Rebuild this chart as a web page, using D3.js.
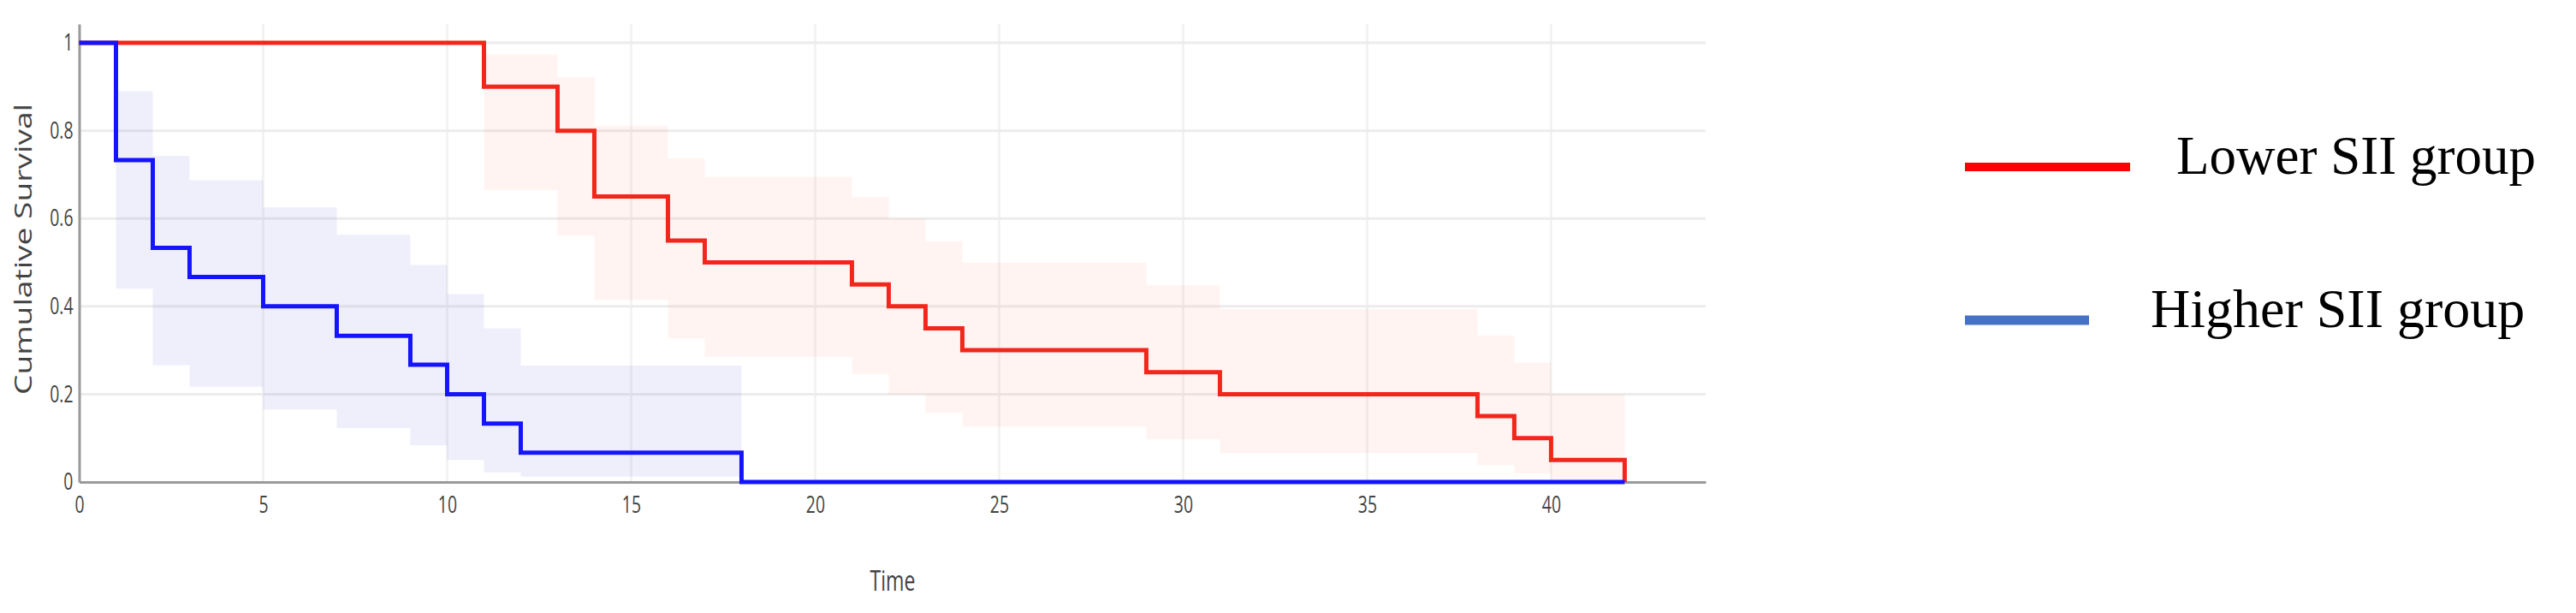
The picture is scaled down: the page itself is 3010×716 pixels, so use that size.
<!DOCTYPE html>
<html>
<head>
<meta charset="utf-8">
<script src="https://cdn.jsdelivr.net/npm/d3@7"></script>
<style>
  html, body { margin: 0; padding: 0; background: #ffffff; }
  svg { display: block; }
</style>
</head>
<body>
<svg id="chart" width="3010" height="716"></svg>
<script>
// ---------------- data ----------------
const seriesNames = ["Lower SII group", "Higher SII group"];

// Lower SII group (Kaplan-Meier steps)
const lowerTimes = [0, 11, 13, 14, 16, 17, 21, 22, 23, 24, 29, 31, 38, 39, 40, 42];
const lowerSurv  = [1, 0.9, 0.8, 0.65, 0.55, 0.5, 0.45, 0.4, 0.35, 0.3, 0.25, 0.2, 0.15, 0.1, 0.05, 0];
// Lower SII group confidence band
const lowerBandTimes = [11, 13, 14, 16, 17, 21, 22, 23, 24, 29, 31, 38, 39, 40, 42];
const lowerBandLow   = [0.665, 0.561, 0.415, 0.327, 0.285, 0.246, 0.2, 0.158, 0.126, 0.097, 0.066, 0.038, 0.019, 0.005, 0.005];
const lowerBandHigh  = [0.974, 0.922, 0.811, 0.737, 0.695, 0.649, 0.6, 0.548, 0.5, 0.448, 0.394, 0.334, 0.272, 0.2, 0.2];

// Higher SII group (Kaplan-Meier steps)
const higherTimes = [0, 1, 2, 3, 5, 7, 9, 10, 11, 12, 18, 42];
const higherSurv  = [1, 0.733, 0.533, 0.467, 0.4, 0.333, 0.267, 0.2, 0.133, 0.067, 0, 0];
// Higher SII group confidence band
const higherBandTimes = [1, 2, 3, 5, 7, 9, 10, 11, 12, 18];
const higherBandLow   = [0.44, 0.266, 0.217, 0.165, 0.123, 0.084, 0.05, 0.022, 0.012, 0.012];
const higherBandHigh  = [0.89, 0.743, 0.687, 0.626, 0.563, 0.494, 0.428, 0.35, 0.265, 0.265];

// axes
const xTickValues = [0, 5, 10, 15, 20, 25, 30, 35, 40];
const xTickLabels = ["0", "5", "10", "15", "20", "25", "30", "35", "40"];
const yTickValues = [0, 0.2, 0.4, 0.6, 0.8, 1];
const yTickLabels = ["0", "0.2", "0.4", "0.6", "0.8", "1"];
const xDomain = [0, 44.2];
const yDomain = [0, 1.043];
const xTitle = "Time";
const yTitle = "Cumulative Survival";

// ---------------- layout ----------------
const plot = { left: 92.5, right: 1993, top: 28, bottom: 563 };
const colors = {
  lowerLine: "#f3261b", higherLine: "#1414ff",
  lowerBand: "rgba(255,60,40,0.06)", higherBand: "rgba(40,40,220,0.075)",
  legendLower: "#ff0000", legendHigher: "#4472c4",
  grid: "#ececec", gridV: "#f1f1f1", axis: "#9a9a9a", text: "#444"
};

const svg = d3.select("#chart");
const x = d3.scaleLinear().domain(xDomain).range([plot.left, plot.right]);
const y = d3.scaleLinear().domain(yDomain).range([plot.bottom, plot.top]);

function compress(sel, factor) {
  sel.each(function () {
    const l = this.getComputedTextLength();
    this.setAttribute("textLength", l * factor);
    this.setAttribute("lengthAdjust", "spacingAndGlyphs");
  });
}

// gridlines
svg.append("g").selectAll("line.v").data(xTickValues.filter(d => d > 0)).join("line")
  .attr("x1", d => x(d)).attr("x2", d => x(d))
  .attr("y1", plot.top).attr("y2", plot.bottom)
  .attr("stroke", colors.gridV).attr("stroke-width", 2.5);
svg.append("g").selectAll("line.h").data(yTickValues.filter(d => d > 0)).join("line")
  .attr("x1", plot.left).attr("x2", plot.right)
  .attr("y1", d => y(d)).attr("y2", d => y(d))
  .attr("stroke", colors.grid).attr("stroke-width", 3);

// confidence bands
function bandData(times, lo, hi) {
  return times.map((t, i) => ({ t, lo: lo[i], hi: hi[i] }));
}
const area = d3.area().curve(d3.curveStepAfter)
  .x(d => x(d.t)).y0(d => y(d.lo)).y1(d => y(d.hi));
svg.append("path").datum(bandData(lowerBandTimes, lowerBandLow, lowerBandHigh))
  .attr("d", area).attr("fill", colors.lowerBand);
svg.append("path").datum(bandData(higherBandTimes, higherBandLow, higherBandHigh))
  .attr("d", area).attr("fill", colors.higherBand);

// axes
const xAxis = d3.axisBottom(x).tickValues(xTickValues)
  .tickFormat((d, i) => xTickLabels[i]).tickSize(0).tickSizeOuter(0).tickPadding(17);
const gx = svg.append("g").attr("transform", `translate(0,${plot.bottom})`).call(xAxis);
const yAxis = d3.axisLeft(y).tickValues(yTickValues)
  .tickFormat((d, i) => yTickLabels[i]).tickSize(0).tickSizeOuter(0).tickPadding(7);
const gy = svg.append("g").attr("transform", `translate(${plot.left},0)`).call(yAxis);
[gx, gy].forEach(g => {
  g.select(".domain").attr("stroke", colors.axis).attr("stroke-width", 3);
  g.selectAll("text").attr("font-family", "'Open Sans', sans-serif")
    .attr("font-size", 27).attr("fill", colors.text);
  compress(g.selectAll("text"), 0.72);
});

// survival lines
const line = d3.line().curve(d3.curveStepAfter).x(d => x(d.t)).y(d => y(d.s));
svg.append("path").datum(lowerTimes.map((t, i) => ({ t, s: lowerSurv[i] })))
  .attr("d", line).attr("fill", "none").attr("stroke", colors.lowerLine).attr("stroke-width", 5);
svg.append("path").datum(higherTimes.map((t, i) => ({ t, s: higherSurv[i] })))
  .attr("d", line).attr("fill", "none").attr("stroke", colors.higherLine).attr("stroke-width", 5);

// axis titles
const xt = svg.append("text").attr("x", 1043).attr("y", 690).attr("text-anchor", "middle")
  .attr("font-family", "'Open Sans', sans-serif").attr("font-size", 32).attr("fill", colors.text)
  .text(xTitle);
xt.attr("textLength", 53).attr("lengthAdjust", "spacingAndGlyphs");
svg.append("text").attr("transform", "translate(37,291) rotate(-90)").attr("text-anchor", "middle")
  .attr("font-family", "'Open Sans', sans-serif").attr("font-size", 28).attr("fill", colors.text)
  .attr("textLength", 340).attr("lengthAdjust", "spacingAndGlyphs")
  .text(yTitle);

// legend
const legendItems = [
  { name: seriesNames[0], color: colors.legendLower, x1: 2296, x2: 2489, ly: 195, sw: 10, tx: 2543, ty: 203, fs: 63 },
  { name: seriesNames[1], color: colors.legendHigher, x1: 2296, x2: 2441, ly: 374, sw: 11, tx: 2513, ty: 382, fs: 64 }
];
const lg = svg.append("g");
lg.selectAll("line").data(legendItems).join("line")
  .attr("x1", d => d.x1).attr("x2", d => d.x2).attr("y1", d => d.ly).attr("y2", d => d.ly)
  .attr("stroke", d => d.color).attr("stroke-width", d => d.sw);
lg.selectAll("text").data(legendItems).join("text")
  .attr("x", d => d.tx).attr("y", d => d.ty)
  .attr("font-family", "'Liberation Serif', 'Times New Roman', serif")
  .attr("font-size", d => d.fs).attr("fill", "#000")
  .text(d => d.name);
</script>
</body>
</html>
